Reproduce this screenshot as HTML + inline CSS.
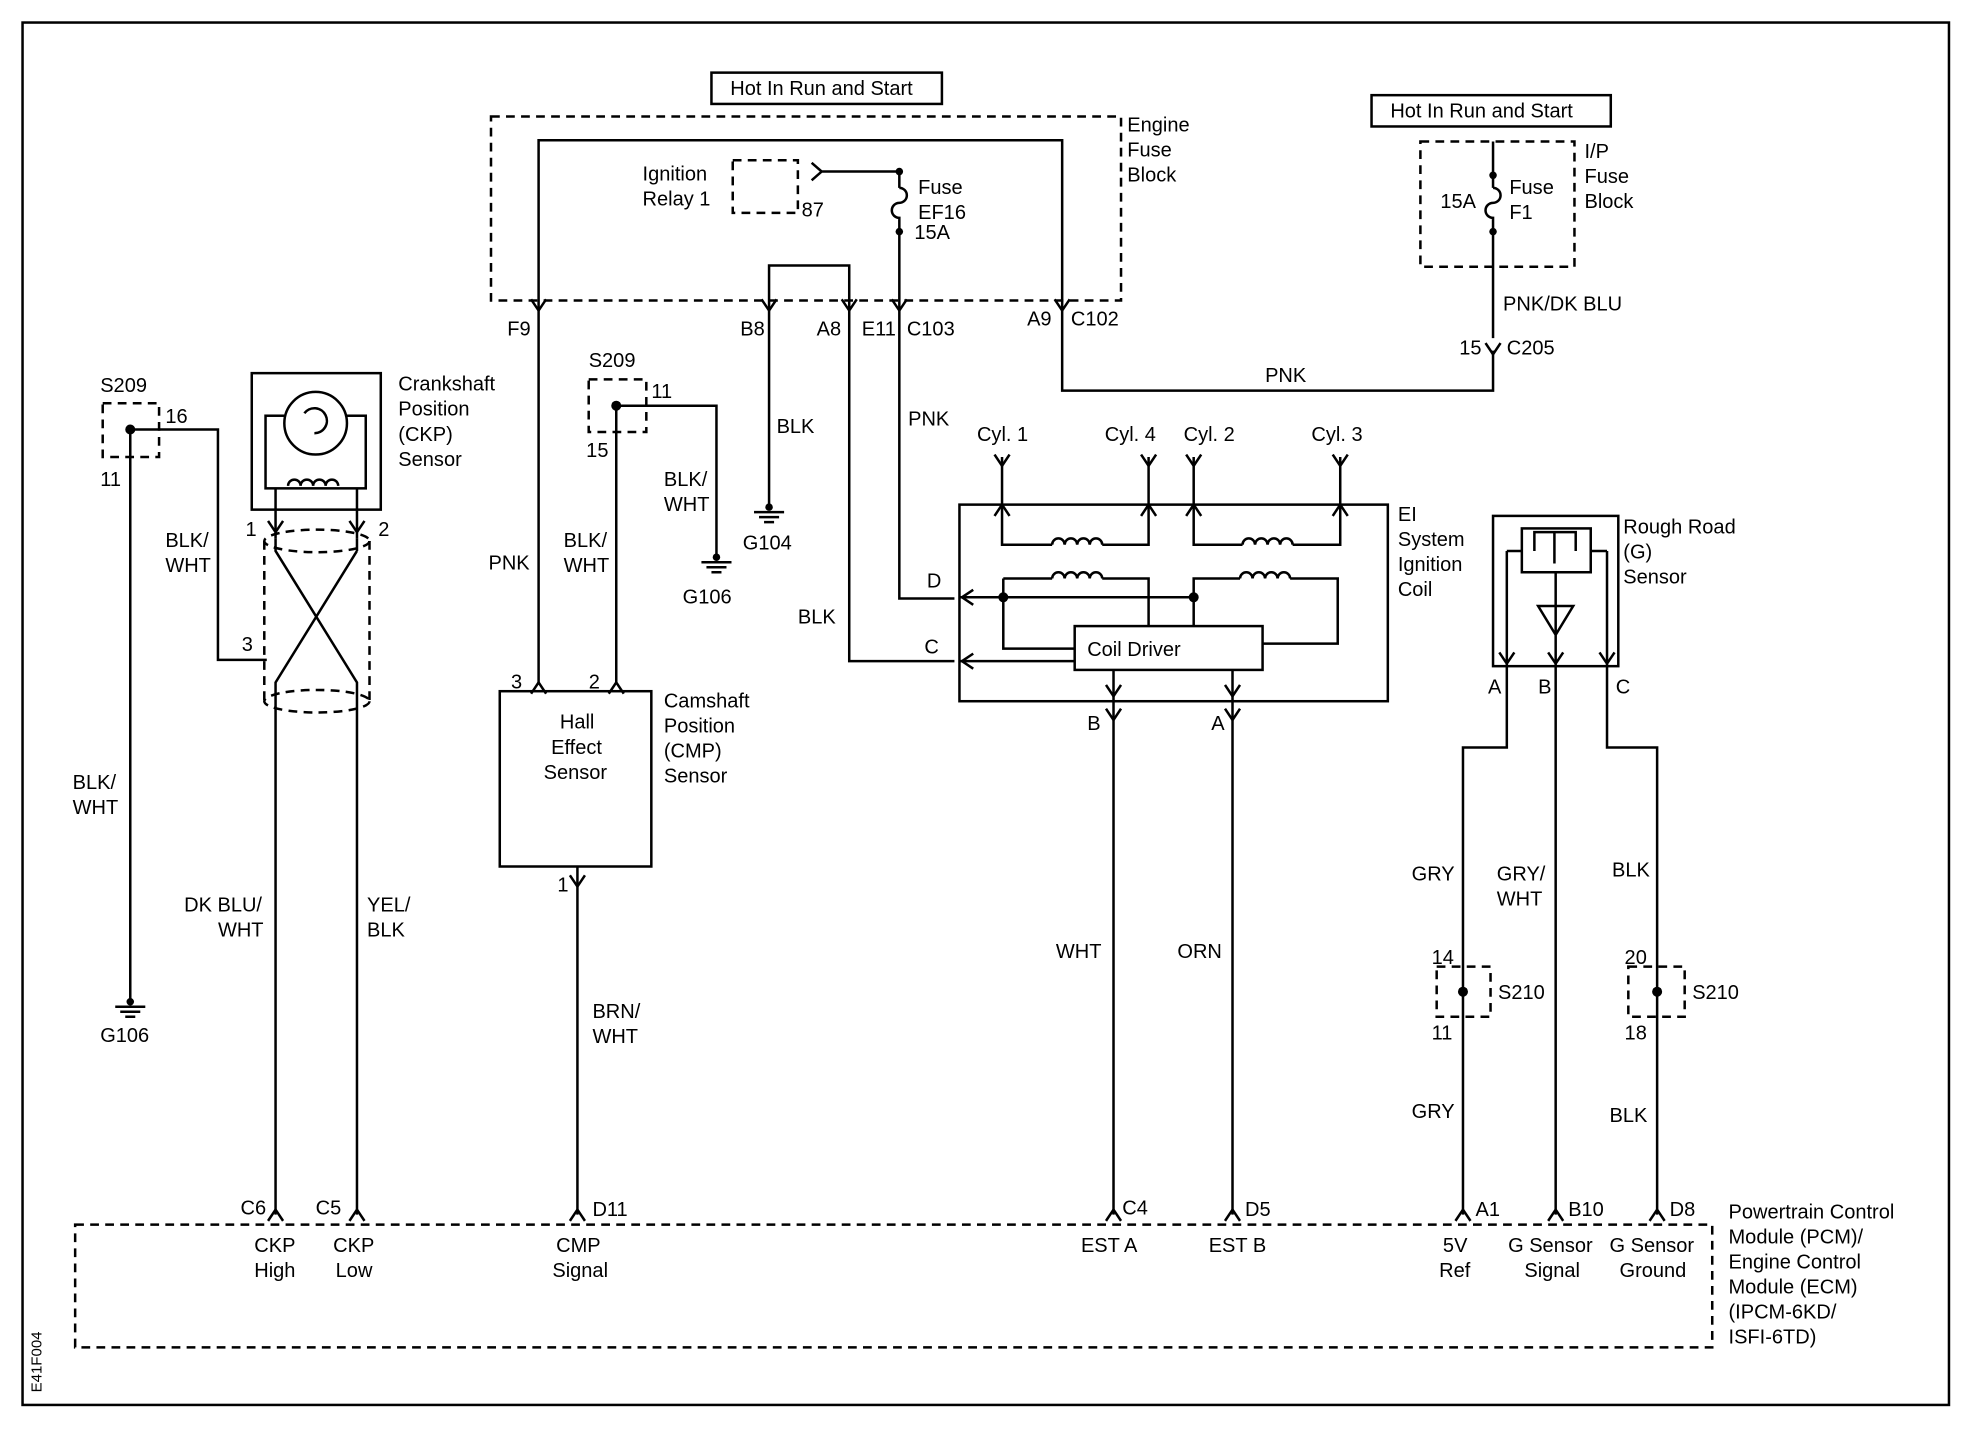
<!DOCTYPE html>
<html><head><meta charset="utf-8"><style>
html,body{margin:0;padding:0;background:#fff;}
svg{display:block;}
text{font-family:"Liberation Sans",sans-serif;font-size:16px;fill:#000;}
</style></head><body>
<svg width="1964" height="1440" viewBox="0 0 1568 1150" preserveAspectRatio="none" xmlns="http://www.w3.org/2000/svg">
<defs>
<path id="cv" d="M-6,-9 L0,0 L6,-9" fill="none" stroke="#000" stroke-width="2"/>
<path id="cu" d="M-6,9 L0,0 L6,9" fill="none" stroke="#000" stroke-width="2"/>
<path id="cl" d="M9,-6 L0,0 L9,6" fill="none" stroke="#000" stroke-width="2"/>
<g id="gnd"><circle cx="0" cy="0" r="3" fill="#000"/><path d="M-12,4 H12 M-8,8 H8 M-4,12 H4" stroke="#000" stroke-width="2"/></g>
<path id="coil" d="M0,0 a5,5 0 0 1 10,0 a5,5 0 0 1 10,0 a5,5 0 0 1 10,0 a5,5 0 0 1 10,0" fill="none" stroke="#000" stroke-width="2"/>
</defs>
<g fill="none" stroke="#000" stroke-width="2">
<rect x="18" y="18" width="1538" height="1104"/>
<rect x="568" y="58" width="184" height="25"/>
<rect x="1095" y="76" width="191" height="25"/>
<rect x="392" y="93" width="503" height="147" stroke-dasharray="7,5"/>
<rect x="1134" y="113" width="123" height="100" stroke-dasharray="7,5"/>
<rect x="585" y="128" width="52" height="42" stroke-dasharray="7,5"/>
<rect x="60" y="978" width="1307" height="98" stroke-dasharray="7,5"/>
<rect x="82" y="322" width="45" height="43" stroke-dasharray="7,5"/>
<rect x="470" y="303" width="46" height="42" stroke-dasharray="7,5"/>
<rect x="1147" y="772" width="43" height="40" stroke-dasharray="7,5"/>
<rect x="1300" y="772" width="45" height="40" stroke-dasharray="7,5"/>
<path d="M430,240 V112 H848 V240"/>
<path d="M648,130 L656,137 L648,144 M656,137 H718 V150"/>
<path d="M718,150 a6,6 0 0 1 0,12 a6,6 0 0 0 0,12 V240"/>
<path d="M614,240 V212 H678 V240"/>
<path d="M1192,113 V150 M1192,150 a6,6 0 0 1 0,12 a6,6 0 0 0 0,12 V270"/>
<path d="M430,240 V545"/>
<path d="M614,240 V405"/>
<path d="M678,240 V528 H762"/>
<path d="M718,240 V478 H762"/>
<path d="M848,240 V312 H1192 V280"/>
<path d="M104,343 H174 V527 H213"/>
<path d="M104,343 V800"/>
<rect x="201" y="298" width="103" height="109"/>
<rect x="212" y="332" width="80" height="58"/>
<rect x="220" y="342" width="64" height="44" stroke="none"/>
<circle cx="252" cy="338" r="25" fill="#fff"/>
<path d="M243,330 a10,10 0 1 1 8,16"/>
<path d="M230,388 a5,5 0 0 1 10,0 a5,5 0 0 1 10,0 a5,5 0 0 1 10,0 a5,5 0 0 1 10,0"/>
<path d="M220,390 V430 M285,390 V430"/>
<path d="M220,430 V440 L285,545 V970 M285,440 L220,545 V970 M285,430 V440"/>
<ellipse cx="253" cy="432" rx="42" ry="9" stroke-dasharray="7,5"/>
<ellipse cx="253" cy="560" rx="42" ry="9" stroke-dasharray="7,5"/>
<path d="M211,432 V560 M295,432 V560" stroke-dasharray="7,5"/>
<path d="M492,324 H572 V445 M492,324 V545"/>
<rect x="399" y="552" width="121" height="140"/>
<path d="M461,692 V970"/>
<rect x="766" y="403" width="342" height="157"/>
<path d="M800,365 V435 H840 M880,435 H917 V365"/>
<path d="M953,365 V435 H992 M1032,435 H1070 V365"/>
<path d="M801,462 H840 M880,462 H917 V500"/>
<path d="M801,462 V518 H858"/>
<path d="M766,477 H953"/>
<path d="M953,500 V462 H990 M1030,462 H1068 V514 H1008"/>
<path d="M766,528 H858"/>
<rect x="858" y="500" width="150" height="35"/>
<path d="M889,535 V970 M984,535 V970"/>
<rect x="1192" y="412" width="100" height="120"/>
<rect x="1215" y="422" width="55" height="35"/>
<path d="M1225,440 V425 H1258 V440 M1241,425 V450 M1203,440 H1215 M1270,440 H1283 M1203,440 V532 M1283,440 V532 M1242,457 V532 M1228,484 H1256 L1242,507 Z"/>
<path d="M1203,532 V597 H1168 V970 M1242,532 V970 M1283,532 V597 H1323 V970"/>
</g>
<use href="#coil" x="840" y="435"/>
<use href="#coil" x="992" y="435"/>
<use href="#coil" x="840" y="462"/>
<use href="#coil" x="990" y="462"/>
<g fill="#000">
<circle cx="718" cy="137" r="3"/><circle cx="718" cy="185" r="3"/>
<circle cx="1192" cy="140" r="3"/><circle cx="1192" cy="185" r="3"/>
<circle cx="104" cy="343" r="4"/><circle cx="492" cy="324" r="4"/>
<circle cx="801" cy="477" r="4"/><circle cx="953" cy="477" r="4"/>
<circle cx="1168" cy="792" r="4"/><circle cx="1323" cy="792" r="4"/>
</g>
<use href="#gnd" x="104" y="800"/><use href="#gnd" x="614" y="405"/><use href="#gnd" x="572" y="445"/>
<use href="#cv" x="430" y="248"/><use href="#cv" x="614" y="248"/><use href="#cv" x="678" y="248"/><use href="#cv" x="718" y="248"/><use href="#cv" x="848" y="248"/>
<use href="#cv" x="1192" y="283"/>
<use href="#cv" x="220" y="425"/><use href="#cv" x="285" y="425"/>
<use href="#cu" x="430" y="545"/><use href="#cu" x="492" y="545"/>
<use href="#cv" x="461" y="708"/>
<use href="#cv" x="800" y="372"/><use href="#cv" x="917" y="372"/><use href="#cv" x="953" y="372"/><use href="#cv" x="1070" y="372"/>
<use href="#cu" x="800" y="403"/><use href="#cu" x="917" y="403"/><use href="#cu" x="953" y="403"/><use href="#cu" x="1070" y="403"/>
<use href="#cl" x="768" y="477"/><use href="#cl" x="768" y="528"/>
<use href="#cv" x="889" y="556"/><use href="#cv" x="984" y="556"/>
<use href="#cv" x="889" y="575"/><use href="#cv" x="984" y="575"/>
<use href="#cv" x="1203" y="530"/><use href="#cv" x="1242" y="530"/><use href="#cv" x="1283" y="530"/>
<use href="#cu" x="220" y="966"/><use href="#cu" x="285" y="966"/><use href="#cu" x="461" y="966"/><use href="#cu" x="889" y="966"/><use href="#cu" x="984" y="966"/><use href="#cu" x="1168" y="966"/><use href="#cu" x="1242" y="966"/><use href="#cu" x="1323" y="966"/>
<text x="583" y="76">Hot In Run and Start</text>
<text x="1110" y="94">Hot In Run and Start</text>
<text x="900" y="105">Engine</text><text x="900" y="125">Fuse</text><text x="900" y="145">Block</text>
<text x="513" y="144">Ignition</text><text x="513" y="164">Relay 1</text><text x="640" y="173">87</text>
<text x="733" y="155">Fuse</text><text x="733" y="175">EF16</text><text x="730" y="191">15A</text>
<text x="1150" y="166">15A</text><text x="1205" y="155">Fuse</text><text x="1205" y="175">F1</text>
<text x="1265" y="126">I/P</text><text x="1265" y="146">Fuse</text><text x="1265" y="166">Block</text>
<text x="405" y="268">F9</text><text x="591" y="268">B8</text><text x="652" y="268">A8</text><text x="688" y="268">E11</text><text x="724" y="268">C103</text>
<text x="820" y="260">A9</text><text x="855" y="260">C102</text>
<text x="1200" y="248">PNK/DK BLU</text><text x="1165" y="283">15</text><text x="1203" y="283">C205</text>
<text x="1010" y="305">PNK</text>
<text x="80" y="313">S209</text><text x="132" y="338">16</text><text x="80" y="388">11</text>
<text x="318" y="312">Crankshaft</text><text x="318" y="332">Position</text><text x="318" y="352">(CKP)</text><text x="318" y="372">Sensor</text>
<text x="196" y="428">1</text><text x="302" y="428">2</text><text x="193" y="520">3</text>
<text x="132" y="437">BLK/</text><text x="132" y="457">WHT</text>
<text x="58" y="630">BLK/</text><text x="58" y="650">WHT</text>
<text x="80" y="832">G106</text>
<text x="147" y="728">DK BLU/</text><text x="174" y="748">WHT</text>
<text x="293" y="728">YEL/</text><text x="293" y="748">BLK</text>
<text x="470" y="293">S209</text><text x="520" y="318">11</text><text x="468" y="365">15</text>
<text x="530" y="388">BLK/</text><text x="530" y="408">WHT</text><text x="545" y="482">G106</text>
<text x="390" y="455">PNK</text><text x="450" y="437">BLK/</text><text x="450" y="457">WHT</text>
<text x="620" y="346">BLK</text><text x="593" y="439">G104</text><text x="725" y="340">PNK</text><text x="637" y="498">BLK</text>
<text x="408" y="550">3</text><text x="470" y="550">2</text><text x="445" y="712">1</text>
<text x="447" y="582">Hall</text><text x="440" y="602">Effect</text><text x="434" y="622">Sensor</text>
<text x="530" y="565">Camshaft</text><text x="530" y="585">Position</text><text x="530" y="605">(CMP)</text><text x="530" y="625">Sensor</text>
<text x="473" y="813">BRN/</text><text x="473" y="833">WHT</text>
<text x="780" y="352">Cyl. 1</text><text x="882" y="352">Cyl. 4</text><text x="945" y="352">Cyl. 2</text><text x="1047" y="352">Cyl. 3</text>
<text x="1116" y="416">EI</text><text x="1116" y="436">System</text><text x="1116" y="456">Ignition</text><text x="1116" y="476">Coil</text>
<text x="740" y="469">D</text><text x="738" y="522">C</text>
<text x="868" y="524">Coil Driver</text>
<text x="868" y="583">B</text><text x="967" y="583">A</text>
<text x="843" y="765">WHT</text><text x="940" y="765">ORN</text>
<text x="1296" y="426">Rough Road</text><text x="1296" y="446">(G)</text><text x="1296" y="466">Sensor</text>
<text x="1188" y="554">A</text><text x="1228" y="554">B</text><text x="1290" y="554">C</text>
<text x="1127" y="703">GRY</text><text x="1195" y="703">GRY/</text><text x="1195" y="723">WHT</text><text x="1287" y="700">BLK</text>
<text x="1143" y="770">14</text><text x="1143" y="830">11</text><text x="1196" y="798">S210</text>
<text x="1297" y="770">20</text><text x="1297" y="830">18</text><text x="1351" y="798">S210</text>
<text x="1127" y="893">GRY</text><text x="1285" y="896">BLK</text>
<text x="192" y="970">C6</text><text x="252" y="970">C5</text><text x="473" y="971">D11</text><text x="896" y="970">C4</text><text x="994" y="971">D5</text><text x="1178" y="971">A1</text><text x="1252" y="971">B10</text><text x="1333" y="971">D8</text>
<text x="203" y="1000">CKP</text><text x="203" y="1020">High</text>
<text x="266" y="1000">CKP</text><text x="268" y="1020">Low</text>
<text x="444" y="1000">CMP</text><text x="441" y="1020">Signal</text>
<text x="863" y="1000">EST A</text><text x="965" y="1000">EST B</text>
<text x="1152" y="1000">5V</text><text x="1149" y="1020">Ref</text>
<text x="1204" y="1000">G Sensor</text><text x="1217" y="1020">Signal</text>
<text x="1285" y="1000">G Sensor</text><text x="1293" y="1020">Ground</text>
<text x="1380" y="973">Powertrain Control</text><text x="1380" y="993">Module (PCM)/</text><text x="1380" y="1013">Engine Control</text><text x="1380" y="1033">Module (ECM)</text><text x="1380" y="1053">(IPCM-6KD/</text><text x="1380" y="1073">ISFI-6TD)</text>
<text x="0" y="0" transform="translate(33,1112) rotate(-90)" style="font-size:12px">E41F004</text>
</svg>
</body></html>
